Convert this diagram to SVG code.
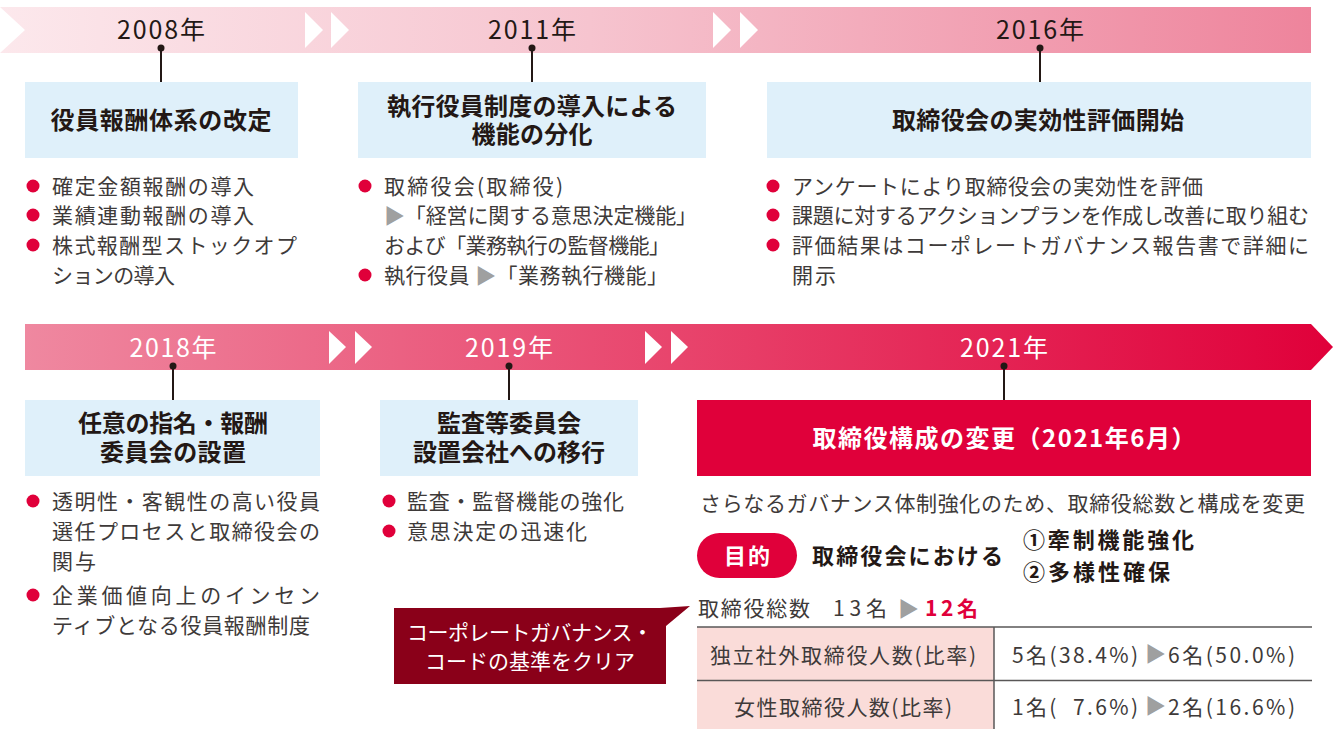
<svg xmlns="http://www.w3.org/2000/svg" width="1333" height="729" viewBox="0 0 1333 729">
<defs>
<linearGradient id="gTop" gradientUnits="userSpaceOnUse" x1="0" y1="0" x2="1311" y2="0">
<stop offset="0" stop-color="#fce8ec"/>
<stop offset="0.45" stop-color="#f6c4cf"/>
<stop offset="1" stop-color="#ee849c"/>
</linearGradient>
<linearGradient id="gBot" gradientUnits="userSpaceOnUse" x1="25" y1="0" x2="1333" y2="0">
<stop offset="0" stop-color="#ef88a0"/>
<stop offset="0.5" stop-color="#e8446c"/>
<stop offset="1" stop-color="#e0003a"/>
</linearGradient>
<style>
text{font-family:"Noto Sans CJK JP","Noto Sans",sans-serif}
.yr{font-size:25px;fill:#231815;text-anchor:middle}
.yrw{font-size:25px;fill:#ffffff;text-anchor:middle}
.ttl{font-size:24px;font-weight:700;fill:#231815;text-anchor:middle}
.bl{font-size:21px;fill:#3e3a39}
.gr{fill:#9fa0a0}
.bul{fill:#e0003a}
.box{fill:#dff0fa}
.chev{fill:#ffffff}
.conn line{stroke:#231815;stroke-width:2}
.conn circle{fill:#231815}
</style>
</defs>

<g id="timeline-top">
<path d="M0,7 H1311 V53 H0 L25,30 Z" fill="url(#gTop)"/>
<polygon class="chev" points="305,12 323,30 305,48"/>
<polygon class="chev" points="331,12 349,30 331,48"/>
<polygon class="chev" points="713,12 731,30 713,48"/>
<polygon class="chev" points="740,12 758,30 740,48"/>
<text class="yr" x="161" y="39" textLength="88">2008年</text>
<text class="yr" x="532" y="39" textLength="88">2011年</text>
<text class="yr" x="1040" y="39" textLength="88">2016年</text>
</g>

<g id="timeline-bottom">
<path d="M25,324 H1311 L1333,347 L1311,370 H25 Z" fill="url(#gBot)"/>
<polygon class="chev" points="329,331 346,347 329,364"/>
<polygon class="chev" points="355,331 372,347 355,364"/>
<polygon class="chev" points="645,331 662,347 645,364"/>
<polygon class="chev" points="671,331 688,347 671,364"/>
<text class="yrw" x="173" y="357" textLength="87">2018年</text>
<text class="yrw" x="509" y="357" textLength="88">2019年</text>
<text class="yrw" x="1004" y="357" textLength="88">2021年</text>
</g>

<g id="connectors" class="conn">
<line x1="161" y1="48" x2="161" y2="83"/><circle cx="161" cy="48" r="3.5"/>
<line x1="532" y1="48" x2="532" y2="83"/><circle cx="532" cy="48" r="3.5"/>
<line x1="1040" y1="48" x2="1040" y2="83"/><circle cx="1040" cy="48" r="3.5"/>
<line x1="173" y1="366" x2="173" y2="400"/><circle cx="173" cy="366" r="3.5"/>
<line x1="509" y1="366" x2="509" y2="400"/><circle cx="509" cy="366" r="3.5"/>
<line x1="1004" y1="366" x2="1004" y2="400"/><circle cx="1004" cy="366" r="3.5"/>
</g>

<g id="node-2008">
<rect class="box" x="25" y="82" width="273" height="76"/>
<text class="ttl" x="161" y="129" textLength="221">役員報酬体系の改定</text>
<circle class="bul" cx="33" cy="186" r="6.5"/>
<text class="bl" x="52" y="193.5" textLength="202">確定金額報酬の導入</text>
<circle class="bul" cx="33" cy="215" r="6.5"/>
<text class="bl" x="52" y="222.5" textLength="202">業績連動報酬の導入</text>
<circle class="bul" cx="33" cy="245" r="6.5"/>
<text class="bl" x="52" y="252.5" textLength="245">株式報酬型ストックオプ</text>
<text class="bl" x="52" y="282.5" textLength="123">ションの導入</text>
</g>

<g id="node-2011">
<rect class="box" x="358" y="82" width="348" height="76"/>
<text class="ttl" x="532" y="115" textLength="290">執行役員制度の導入による</text>
<text class="ttl" x="532" y="143" textLength="121">機能の分化</text>
<circle class="bul" cx="365" cy="186" r="6.5"/>
<text class="bl" x="384" y="193.5" textLength="179">取締役会(取締役)</text>
<text class="bl" x="384" y="222.5" textLength="313"><tspan class="gr">▶</tspan>「経営に関する意思決定機能」</text>
<text class="bl" x="384" y="252.5" textLength="286">および「業務執行の監督機能」</text>
<circle class="bul" cx="365" cy="275" r="6.5"/>
<text class="bl" x="384" y="282.5" textLength="284">執行役員 <tspan class="gr">▶</tspan>「業務執行機能」</text>
</g>

<g id="node-2016">
<rect class="box" x="767" y="82" width="544" height="76"/>
<text class="ttl" x="1038" y="129" textLength="292">取締役会の実効性評価開始</text>
<circle class="bul" cx="773" cy="186" r="6.5"/>
<text class="bl" x="792" y="193.5" textLength="411">アンケートにより取締役会の実効性を評価</text>
<circle class="bul" cx="773" cy="215" r="6.5"/>
<text class="bl" x="792" y="222.5" textLength="517">課題に対するアクションプランを作成し改善に取り組む</text>
<circle class="bul" cx="773" cy="245" r="6.5"/>
<text class="bl" x="792" y="252.5" textLength="517">評価結果はコーポレートガバナンス報告書で詳細に</text>
<text class="bl" x="792" y="282.5" textLength="44">開示</text>
</g>

<g id="node-2018">
<rect class="box" x="25" y="400" width="295" height="76"/>
<text class="ttl" x="173" y="432" textLength="190">任意の指名・報酬</text>
<text class="ttl" x="173" y="461" textLength="146">委員会の設置</text>
<circle class="bul" cx="33" cy="501" r="6.5"/>
<text class="bl" x="52" y="508.5" textLength="268">透明性・客観性の高い役員</text>
<text class="bl" x="52" y="538.5" textLength="268">選任プロセスと取締役会の</text>
<text class="bl" x="52" y="568.5" textLength="44">関与</text>
<circle class="bul" cx="33" cy="595" r="6.5"/>
<text class="bl" x="52" y="602.5" textLength="268">企業価値向上のインセン</text>
<text class="bl" x="52" y="632.5" textLength="258">ティブとなる役員報酬制度</text>
</g>

<g id="node-2019">
<rect class="box" x="380" y="400" width="258" height="76"/>
<text class="ttl" x="509" y="432" textLength="144">監査等委員会</text>
<text class="ttl" x="509" y="461" textLength="192">設置会社への移行</text>
<circle class="bul" cx="389" cy="501" r="6.5"/>
<text class="bl" x="407" y="508.5" textLength="217">監査・監督機能の強化</text>
<circle class="bul" cx="389" cy="531" r="6.5"/>
<text class="bl" x="407" y="538.5" textLength="180">意思決定の迅速化</text>
</g>

<g id="node-2021">
<rect x="697" y="400" width="614" height="76" fill="#e0003a"/>
<text x="1004" y="447" font-size="24" font-weight="700" fill="#ffffff" text-anchor="middle" textLength="383">取締役構成の変更（2021年6月）</text>
<text class="bl" x="700" y="510.5" textLength="605">さらなるガバナンス体制強化のため、取締役総数と構成を変更</text>
<rect x="697" y="533" width="100" height="45" rx="22.5" fill="#e0003a"/>
<text x="747" y="564" font-size="22" font-weight="700" fill="#ffffff" text-anchor="middle" textLength="46">目的</text>
<text x="812" y="564" font-size="22" font-weight="700" fill="#231815" textLength="191">取締役会における</text>
<text x="1023" y="548" font-size="22" font-weight="700" fill="#231815" textLength="171">①牽制機能強化</text>
<text x="1023" y="580" font-size="22" font-weight="700" fill="#231815" textLength="147">②多様性確保</text>
<text class="bl" x="698" y="615.5" textLength="112">取締役総数</text>
<text class="bl" x="833" y="615.5" textLength="54">13名</text>
<text class="bl gr" x="898" y="615.5" font-size="16">▶</text>
<text x="925" y="615.5" font-size="21" font-weight="700" fill="#e0003a" textLength="53">12名</text>
</g>

<g id="table">
<rect x="697" y="627" width="297" height="102" fill="#fadcd9"/>
<line x1="697" y1="627" x2="1312" y2="627" stroke="#595757" stroke-width="1.5"/>
<line x1="697" y1="680.5" x2="1312" y2="680.5" stroke="#595757" stroke-width="1.5"/>
<line x1="994" y1="627" x2="994" y2="729" stroke="#595757" stroke-width="1.5"/>
<text class="bl" x="843" y="662.5" text-anchor="middle" textLength="266">独立社外取締役人数(比率)</text>
<text class="bl" x="843" y="714.5" text-anchor="middle" textLength="218">女性取締役人数(比率)</text>
<text class="bl" x="1012" y="662.5" textLength="126">5名(38.4%)</text>
<text class="bl gr" x="1145" y="661" font-size="14">▶</text>
<text class="bl" x="1168" y="662.5" textLength="127">6名(50.0%)</text>
<text class="bl" x="1012" y="714.5" textLength="126" xml:space="preserve">1名(  7.6%)</text>
<text class="bl gr" x="1145" y="713" font-size="14">▶</text>
<text class="bl" x="1168" y="714.5" textLength="127">2名(16.6%)</text>
</g>

<g id="callout">
<path d="M394,608 H660 L690,606 L666,626 V684 H394 Z" fill="#8a0019"/>
<text x="530" y="640" font-size="21" fill="#ffffff" text-anchor="middle" textLength="246">コーポレートガバナンス・</text>
<text x="530" y="669" font-size="21" fill="#ffffff" text-anchor="middle" textLength="210">コードの基準をクリア</text>
</g>
</svg>
